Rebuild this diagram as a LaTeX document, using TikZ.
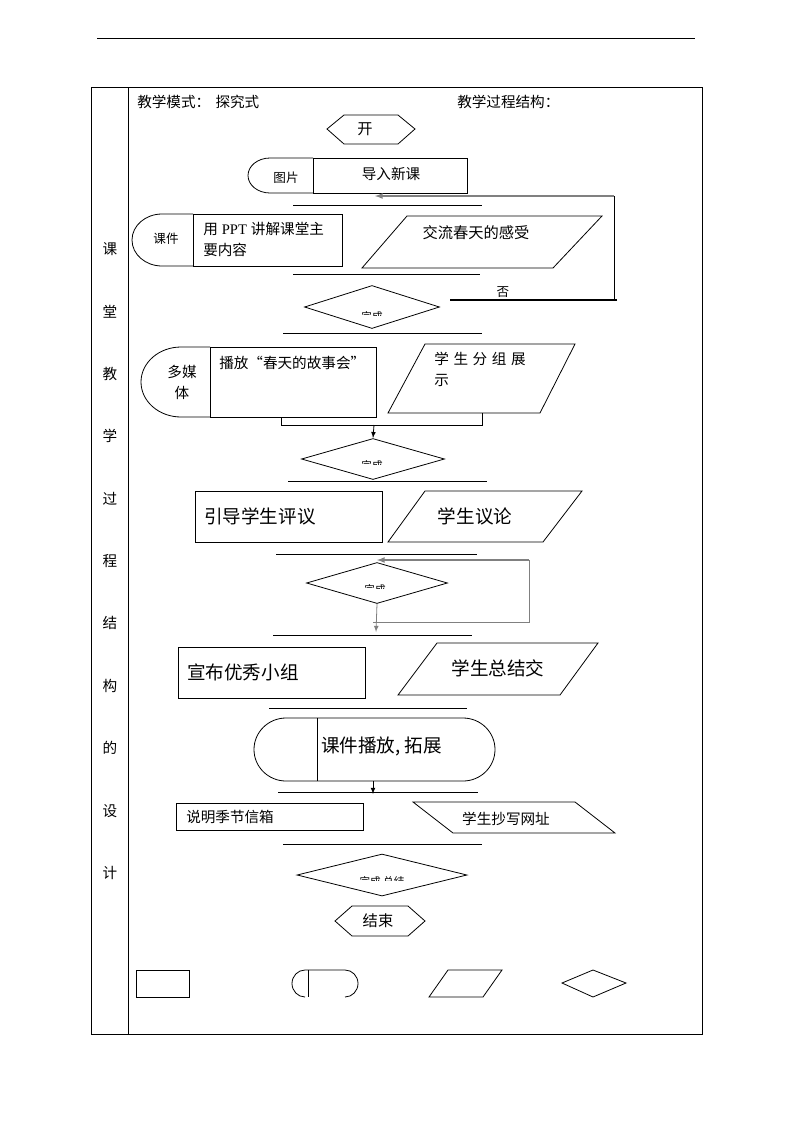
\documentclass[tikz,border=0pt]{standalone}
\usepackage{fontspec}
\setmainfont{Liberation Serif}
\newfontfamily\cjk{Noto Sans CJK SC}
\usetikzlibrary{shapes}
\newlength{\px}
\setlength{\px}{0.026482cm}
\begin{document}
\begin{tikzpicture}[x=\px, y=-\px]

	\tikzstyle{line1}=[line width=0.6pt]
	\tikzstyle{line2}=[line width=1.1pt]
	\tikzstyle{arrow1}=[-latex, line width=0.6pt]
	\tikzstyle{arrow2}=[-latex, line width=1pt, draw=gray]
	\tikzstyle{dia1}=[diamond, draw, line width=0.6pt, inner sep=0pt]
	\tikzstyle{node1}=[font=\cjk\fontsize{11}{15.8}\selectfont, inner sep=0pt]
	\tikzstyle{node2}=[font=\cjk\fontsize{9.5}{11}\selectfont, inner sep=0pt]
	\tikzstyle{node3}=[font=\cjk\fontsize{14}{17}\selectfont, inner sep=0pt]
	\tikzstyle{node4}=[font=\cjk\fontsize{8}{9}\selectfont, inner sep=0pt]
	\tikzstyle{node5}=[font=\cjk\fontsize{11.5}{14}\selectfont, inner sep=0pt]

	\useasboundingbox (0,0) rectangle (793,1122);

	% page rule and table
	\draw [line1] (97,38) -- (695,38);
	\draw [line1] (91,87) rectangle (702,1034);
	\draw [line1] (128,87) -- (128,1034);
	\foreach \c [count=\i from 0] in {课,堂,教,学,过,程,结,构,的,设,计}
		\node [node1] (side\i) at (110,249+62.4*\i) {\c};

	\node [node1, anchor=west] (mode) at (137,102) {教学模式：\hspace{4pt}探究式};
	\node [node1, anchor=west] (struct) at (457,102) {教学过程结构：};

	% start
	\draw [line1] (327,129) -- (344,115) -- (398,115) -- (415,129) -- (398,144) -- (344,144) -- cycle;
	\node [node5] (start) at (365,129) {开};

	% row 1
	\draw [line1] (313,158) rectangle (467,193);
	\draw [line1] (313,158) -- (270,158) arc[start angle=270, end angle=90, x radius=22, y radius=17.5] -- (313,193);
	\node [node1] (intro) at (391,174) {导入新课};
	\node [node2] (pic) at (286,178) {图片};

	\coordinate (back1) at (614,196);
	\coordinate (in1) at (375,196);
	\coordinate (no1) at (617,300);
	\coordinate (no2) at (450,300);
	\draw [arrow2] (back1) -- (in1);
	\draw [line1] (back1) -- (614,301);
	\draw [line2] (no1) -- (no2);
	\node [node2] (no) at (503,292) {否};

	\draw [line1] (293,205) -- (482,205);

	% row 2
	\draw [line1] (193,214) rectangle (342,266);
	\draw [line1] (193,214) -- (162,214) arc[start angle=270, end angle=90, x radius=30, y radius=26] -- (193,266);
	\node [node2] (ware1) at (166,239) {课件};
	\node [node1, anchor=north west, align=left] (ppt) at (203,222) {用\hspace{3pt}{\rmfamily PPT}\hspace{3pt}讲解课堂主\\要内容};
	\draw [line1] (407,216) -- (602,216) -- (553,268) -- (362,268) -- cycle;
	\node [node5] (talk1) at (476,233) {交流春天的感受};

	\draw [line1] (293,274) -- (480,274);
	\node [dia1, minimum width=135\px, minimum height=43\px] (done1) at (372,307) {};
	\begin{scope}
		\clip (320,300) rectangle (424,315);
		\node [node4] (done1t) at (372,316) {完成};
	\end{scope}
	\draw [line1] (283,333) -- (482,333);

	% row 3
	\draw [line1] (210,347) rectangle (376,417);
	\draw [line1] (210,347) -- (181,347) arc[start angle=270, end angle=90, x radius=40, y radius=35] -- (210,417);
	\node [node1, align=center] (media) at (182,382) {多媒\\体};
	\node [node1, anchor=west] (story) at (219,363) {播放“春天的故事会”};
	\draw [line1] (425,344) -- (575,344) -- (540,413) -- (388,413) -- cycle;
	\node [node1, anchor=north west, align=left] (show) at (434,352) {学\hspace{3.5pt}生\hspace{3.5pt}分\hspace{3.5pt}组\hspace{3.5pt}展\\示};

	\coordinate (j1) at (281,417);
	\coordinate (j2) at (482,413);
	\coordinate (j3) at (374,425);
	\draw [line1] (j1) -- (281,425) -- (482,425) -- (j2);
	\node [dia1, minimum width=143\px, minimum height=41\px] (done2) at (373,459) {};
	\draw [arrow1] (j3) -- (done2.north);
	\begin{scope}
		\clip (320,450) rectangle (426,464.5);
		\node [node4] (done2t) at (372,465.5) {完成};
	\end{scope}
	\draw [line1] (288,481) -- (487,481);

	% row 4
	\draw [line1] (195,491) rectangle (382,542);
	\node [node3, anchor=west] (guide) at (204,516) {引导学生评议};
	\draw [line1] (425,491) -- (582,491) -- (543,542) -- (388,542) -- cycle;
	\node [node3] (discuss) at (475,516) {学生议论};

	\draw [line1] (276,554) -- (477,554);
	\node [dia1, minimum width=141\px, minimum height=41\px] (done3) at (377,583) {};
	\begin{scope}
		\clip (320,575) rectangle (430,588.5);
		\node [node4] (done3t) at (375,589.5) {完成};
	\end{scope}
	\coordinate (back3) at (529,560);
	\coordinate (in3) at (377,560);
	\coordinate (out3) at (373,622);
	\coordinate (down3) at (376,632);
	\draw [arrow2] (back3) -- (in3);
	\draw [line1, draw=gray] (back3) -- (529,622) -- (out3);
	\draw [arrow1, draw=gray] (done3.south) -- (down3);
	\draw [line1] (273,635) -- (472,635);

	% row 5
	\draw [line1] (178,647) rectangle (365,698);
	\node [node3, anchor=west] (best) at (187,672) {宣布优秀小组};
	\draw [line1] (437,643) -- (598,643) -- (560,695) -- (398,695) -- cycle;
	\node [node3] (sum) at (498,668) {学生总结交};

	\draw [line1] (269,708) -- (467,708);
	\draw [line1] (286,718) -- (463,718) arc[start angle=-90, end angle=90, x radius=32, y radius=31.5] -- (286,781) arc[start angle=90, end angle=270, x radius=32, y radius=31.5] -- cycle;
	\draw [line1] (317,718) -- (317,781);
	\node [node3, anchor=west] (play) at (321,746) {课件播放, 拓展};
	\coordinate (p1) at (373,781);
	\coordinate (p2) at (373,794);
	\draw [arrow1] (p1) -- (p2);
	\draw [line1] (278,792) -- (478,792);

	% row 6
	\draw [line1] (176,803) rectangle (363,830);
	\node [node1, anchor=west] (mail) at (186,817) {说明季节信箱};
	\draw [line1] (413,802) -- (575,802) -- (615,833) -- (453,833) -- cycle;
	\node [node1] (copy) at (506,819) {学生抄写网址};

	\draw [line1] (283,844) -- (482,844);
	\node [dia1, minimum width=170\px, minimum height=42\px] (done4) at (382,875) {};
	\begin{scope}
		\clip (320,866) rectangle (445,880.5);
		\node [node4] (done4t) at (382,881.5) {完成\ 总结};
	\end{scope}

	% end
	\draw [line1] (335,921) -- (352,906) -- (408,906) -- (425,921) -- (408,936) -- (352,936) -- cycle;
	\node [node5] (finish) at (378,921) {结束};

	% legend
	\draw [line1] (136,970) rectangle (189,997);
	\draw [line1] (305,997) arc[start angle=90, end angle=270, x radius=13, y radius=13.5] -- (345,970) arc[start angle=-90, end angle=90, x radius=13, y radius=13.5];
	\draw [line1] (308,970) -- (308,997);
	\draw [line1] (448,970) -- (502,970) -- (483,997) -- (429,997) -- cycle;
	\draw [line1] (562,983) -- (593,970) -- (626,983) -- (593,997) -- cycle;

\end{tikzpicture}
\end{document}
